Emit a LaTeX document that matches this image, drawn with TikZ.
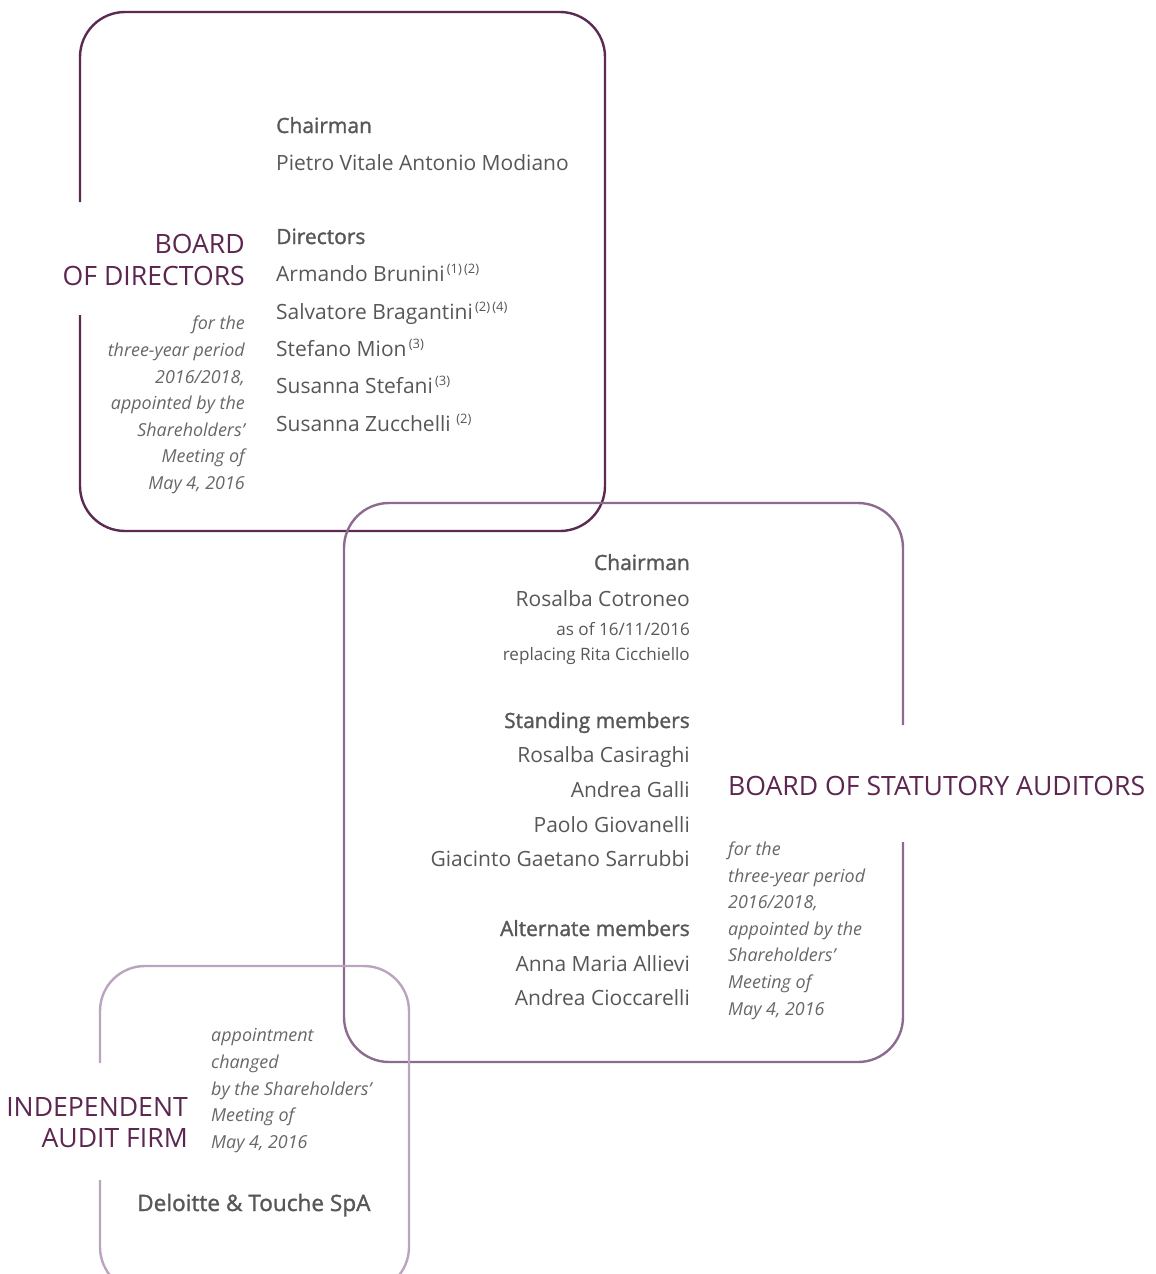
\documentclass[tikz,border=0pt]{standalone}
\usepackage{fontspec}
\setmainfont{Open Sans}
\newfontfamily\medfont{Open Sans}[FakeBold=1.4]
\definecolor{plum}{HTML}{5C2650}
\definecolor{plumline}{HTML}{5B2A52}
\definecolor{mauveline}{HTML}{8C6B8F}
\definecolor{lilacline}{HTML}{BBA4BF}
\definecolor{txtgray}{HTML}{575757}
\definecolor{notegray}{HTML}{676767}
\tikzset{
  boxframe/.style={line width=2.4pt,rounded corners=45pt},
  boardtitle/.style={inner sep=0pt,text=plum,font=\fontsize{26.6}{31}\selectfont},
  headtxt/.style={inner sep=0pt,text=txtgray,font=\medfont\fontsize{21}{25}\selectfont},
  nametxt/.style={inner sep=0pt,text=txtgray,font=\fontsize{21}{25}\selectfont},
  firmtxt/.style={inner sep=0pt,text=txtgray,font=\medfont\fontsize{22.6}{26}\selectfont},
  smalltxt/.style={inner sep=0pt,text=txtgray,font=\fontsize{17.1}{20}\selectfont},
  notetxt/.style={inner sep=0pt,text=notegray,font=\fontsize{17.9}{21}\selectfont\itshape},
}
\newcommand{\fn}[1]{\raisebox{0.36em}{\fontsize{13}{14}\selectfont\,#1}}
\begin{document}
\begin{tikzpicture}[x=1pt,y=-1pt]
\useasboundingbox (0,0) rectangle (1156,1274);

% frames
\draw[boxframe,plumline] (80,315) -- (80,531) -- (605,531) -- (605,12) -- (80,12) -- (80,202);
\draw[boxframe,mauveline] (903,842) -- (903,1062) -- (344,1062) -- (344,503) -- (903,503) -- (903,725);
\begin{scope}
\clip (0,0) rectangle (1156,1274);
\draw[boxframe,lilacline] (100,1180) -- (100,1292) -- (409,1292) -- (409,966) -- (100,966) -- (100,1063);
\end{scope}

% board of directors
\node[boardtitle,anchor=base east] (bod1) at (245,253) {BOARD};
\node[boardtitle,anchor=base east] (bod2) at (245,285) {OF DIRECTORS};

\foreach \k/\txt/\y in {1/{for the}/329,2/{three-year period}/356,3/{2016/2018,}/383,
    4/{appointed by the}/409,5/{Shareholders'}/436,6/{Meeting of}/462,7/{May 4, 2016}/489}
  \node[notetxt,anchor=base east] (bodnote\k) at (245,\y) {\txt};

\node[headtxt,anchor=base west] (bodchair) at (276,133) {Chairman};
\node[nametxt,anchor=base west] (bodchairname) at (276,170) {Pietro Vitale Antonio Modiano};
\node[headtxt,anchor=base west] (boddir) at (276,244) {Directors};
\node[nametxt,anchor=base west] (boddir1) at (276,281) {Armando Brunini\fn{(1)\,(2)}};
\node[nametxt,anchor=base west] (boddir2) at (276,319) {Salvatore Bragantini\fn{(2)\,(4)}};
\node[nametxt,anchor=base west] (boddir3) at (276,356) {Stefano Mion\fn{(3)}};
\node[nametxt,anchor=base west] (boddir4) at (276,393) {Susanna Stefani\fn{(3)}};
\node[nametxt,anchor=base west] (boddir5) at (276,431) {Susanna Zucchelli\,\fn{(2)}};

% board of statutory auditors
\node[boardtitle,anchor=base west] (bsa) at (728,795) {BOARD OF STATUTORY AUDITORS};

\foreach \k/\txt/\y in {1/{for the}/855,2/{three-year period}/882,3/{2016/2018,}/908,
    4/{appointed by the}/935,5/{Shareholders'}/961,6/{Meeting of}/988,7/{May 4, 2016}/1015}
  \node[notetxt,anchor=base west] (bsanote\k) at (728,\y) {\txt};

\node[headtxt,anchor=base east] (bsachair) at (690,570) {Chairman};
\node[nametxt,anchor=base east] (bsachairname) at (690,606) {Rosalba Cotroneo};
\node[smalltxt,anchor=base east] (bsaasof) at (690,635) {as of 16/11/2016};
\node[smalltxt,anchor=base east] (bsarepl) at (690,660) {replacing Rita Cicchiello};
\node[headtxt,anchor=base east] (bsastand) at (690,728) {Standing members};
\node[nametxt,anchor=base east] (bsastand1) at (690,762) {Rosalba Casiraghi};
\node[nametxt,anchor=base east] (bsastand2) at (690,797) {Andrea Galli};
\node[nametxt,anchor=base east] (bsastand3) at (690,832) {Paolo Giovanelli};
\node[nametxt,anchor=base east] (bsastand4) at (690,866) {Giacinto Gaetano Sarrubbi};
\node[headtxt,anchor=base east] (bsaalt) at (690,936) {Alternate members};
\node[nametxt,anchor=base east] (bsaalt1) at (690,971) {Anna Maria Allievi};
\node[nametxt,anchor=base east] (bsaalt2) at (690,1005) {Andrea Cioccarelli};

% independent audit firm
\node[boardtitle,anchor=base east] (iaf1) at (188,1116) {INDEPENDENT};
\node[boardtitle,anchor=base east] (iaf2) at (188,1147) {AUDIT FIRM};

\foreach \k/\txt/\y in {1/{appointment}/1041,2/{changed}/1068,3/{by the Shareholders'}/1095,
    4/{Meeting of}/1121,5/{May 4, 2016}/1148}
  \node[notetxt,anchor=base west] (iafnote\k) at (211,\y) {\txt};

\node[firmtxt,anchor=base west] (iafname) at (137,1211) {Deloitte \& Touche SpA};

\end{tikzpicture}
\end{document}
